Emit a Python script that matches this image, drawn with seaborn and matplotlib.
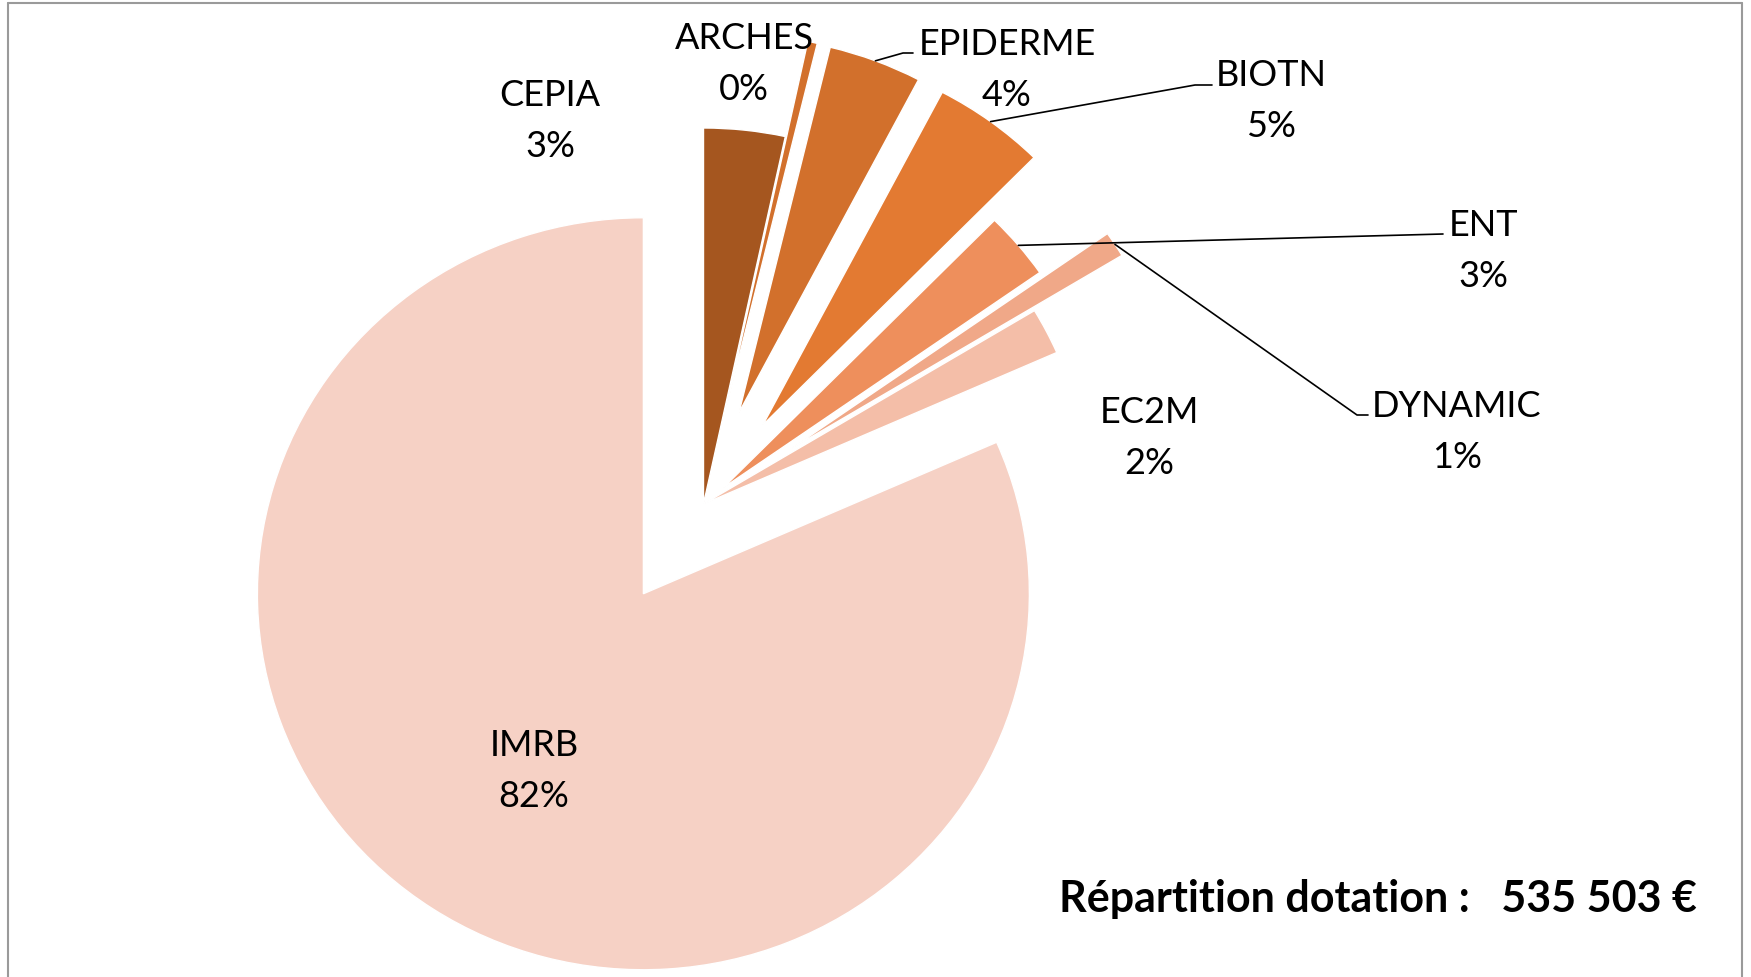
import matplotlib
matplotlib.use("Agg")
import matplotlib.pyplot as plt
from matplotlib.lines import Line2D
import numpy as np
import seaborn as sns

# data (share of the budget, in %)
labs = ["CEPIA", "ARCHES", "EPIDERME", "BIOTN", "ENT", "DYNAMIC", "EC2M", "IMRB"]
shares = [3.4, 0.4, 3.9, 4.7, 2.9, 1.1, 2.0, 81.6]
total = "535 503 €"

colors = ["#A5561F", "#D2702C", "#D2702C", "#E37A32", "#EE8F5C", "#F0A888", "#F4BEA8", "#F6D1C5"]
explode = [0, 0.26, 0.26, 0.26, 0.067, 0.27, 0, 0.285]

W, H = 1751, 977
cx, cy = 703.5, 504   # pixel position of the pie centre
sx, sy = 386, 376     # pixels per unit radius (slightly stretched horizontally)


def px(x, y):
    return (x - cx) / sx, (cy - y) / sy


# label centres (pixels) and leader line elbows
label_pos = {"CEPIA": (550, 121), "ARCHES": (744, 64), "EPIDERME": (1007, 70),
             "BIOTN": (1271, 101), "ENT": (1483, 251), "DYNAMIC": (1457, 432),
             "EC2M": (1149, 438), "IMRB": (534, 771)}
leaders = {"EPIDERME": [(903, 53), (913, 53)],
           "BIOTN": [(1195, 85), (1212, 85)],
           "ENT": [(1443, 234)],
           "DYNAMIC": [(1357, 415), (1368, 415)]}

sns.set_theme(style="white")
plt.rcParams["font.family"] = ["Lato", "DejaVu Sans"]

fig = plt.figure(figsize=(W / 100, H / 100), dpi=100)
ax = fig.add_axes([0, 0, 1, 1])

wedges, _ = ax.pie(shares, colors=colors, explode=explode, startangle=90,
                   counterclock=False, radius=1,
                   wedgeprops=dict(edgecolor="white", linewidth=1.0))
ax.set_aspect("auto")
ax.set_xlim(px(0, 0)[0], px(W, 0)[0])
ax.set_ylim(px(0, H)[1], px(0, 0)[1])
ax.axis("off")

# leader lines start on the outer arc at the middle of the slice
cum = np.cumsum([0] + shares)
for i, lab in enumerate(labs):
    if lab in leaders:
        mid = np.deg2rad((cum[i] + cum[i + 1]) / 2 / 100 * 360)
        r = 1 + explode[i]
        xs = [r * np.sin(mid)] + [px(*p)[0] for p in leaders[lab]]
        ys = [r * np.cos(mid)] + [px(*p)[1] for p in leaders[lab]]
        ax.plot(xs, ys, color="black", lw=1.2)

for lab, v in zip(labs, shares):
    x, y = px(*label_pos[lab])
    ax.text(x, y, f"{lab}\n{round(v)}%", ha="center", va="center",
            fontsize=26, linespacing=1.65, color="black")

fig.text(1697 / W, 1 - 899 / H, f"Répartition dotation :   {total}", ha="right",
         va="center", fontsize=31, fontweight="bold", color="black")

# thin grey frame of the original chart area
for xs, ys in [([8, 8], [H + 5, 3]), ([8, 1742], [3, 3]), ([1742, 1742], [3, H + 5])]:
    fig.add_artist(Line2D([x / W for x in xs], [1 - y / H for y in ys],
                          color="#9a9a9a", lw=1.5, transform=fig.transFigure))

fig.savefig("out.png", dpi=100)
